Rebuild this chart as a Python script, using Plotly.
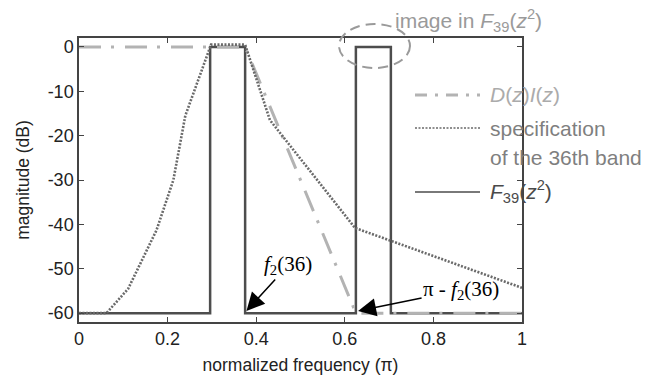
import plotly.graph_objects as go

# ---- data ----
f39_x = [0, 0.296, 0.296, 0.375, 0.375, 0.625, 0.625, 0.704, 0.704, 1.0]
f39_y = [-60, -60, 0, 0, -60, -60, 0, 0, -60, -60]

di_x = [0, 0.375, 0.625, 1.0]
di_y = [0, 0, -60, -60]

spec_x = [0, 0.062, 0.111, 0.175, 0.213, 0.240, 0.298, 0.375, 0.431, 0.623, 1.0]
spec_y = [-60, -60, -54.5, -41.3, -30, -15.5, 0.5, 0.5, -16.5, -40.8, -54.3]

x_ticks = [0, 0.2, 0.4, 0.6, 0.8, 1]
x_ticktext = ["0", "0.2", "0.4", "0.6", "0.8", "1"]
y_ticks = [0, -10, -20, -30, -40, -50, -60]
y_ticktext = ["0", "-10", "-20", "-30", "-40", "-50", "-60"]

DARK = "#4d4d4d"
LIGHT = "#b3b3b3"
MID = "#6a6a6a"
FONT = "Liberation Sans, Arial, sans-serif"
SERIF = "Liberation Serif, Times New Roman, serif"

fig = go.Figure()
fig.add_trace(go.Scatter(x=f39_x, y=f39_y, mode="lines",
                         line=dict(color=DARK, width=2.5), showlegend=False))
fig.add_trace(go.Scatter(x=di_x, y=di_y, mode="lines",
                         line=dict(color=LIGHT, width=3, dash="22px,10px,3px,11px"),
                         showlegend=False))
fig.add_trace(go.Scatter(x=spec_x, y=spec_y, mode="lines",
                         line=dict(color=MID, width=2.6, dash="2px,1.5px"),
                         showlegend=False))

# page has an 8px body margin; figure sized to fit the window
OFF = 8
W, H = 670 - OFF, 382 - OFF
# plot area in screen pixels: x 79..522, y 38..322
SL, SR, ST, SB = 79, 522, 38, 322
L, T = SL - OFF, ST - OFF
R, B = W + OFF - SR, H + OFF - SB
PW, PH = SR - SL, SB - ST
def px(x):
    return (x - SL) / PW
def py(y):
    return (SB - y) / PH

shapes = []
annotations = []

# manual legend
leg = [
    (95, LIGHT, 3, "12px,8px,3px,8px", "<i>D</i>(<i>z</i>)<i>I</i>(<i>z</i>)", "#ababab"),
    (128, MID, 1.5, "2px,1.5px", "specification", "#7f7f7f"),
    (192, DARK, 1.5, None, "<i>F</i><sub>39</sub>(<i>z</i><sup>2</sup>)", "#4a4a4a"),
]
for yy, col, wd, dash, txt, tcol in leg:
    ln = dict(color=col, width=wd)
    if dash:
        ln["dash"] = dash
    shapes.append(dict(type="line", xref="paper", yref="paper",
                       x0=px(415), x1=px(480), y0=py(yy), y1=py(yy), line=ln))
    annotations.append(dict(xref="paper", yref="paper", x=px(488), y=py(yy),
                            xanchor="left", yanchor="middle", text=txt,
                            showarrow=False, font=dict(family=FONT, size=21, color=tcol)))
annotations.append(dict(xref="paper", yref="paper", x=px(488), y=py(157),
                        xanchor="left", yanchor="middle", text="of the 36th band",
                        showarrow=False, font=dict(family=FONT, size=21, color="#7f7f7f")))

# image label and ellipse
annotations.append(dict(xref="paper", yref="paper", x=px(393), y=py(21),
                        xanchor="left", yanchor="middle",
                        text="image in <i>F</i><sub>39</sub>(<i>z</i><sup>2</sup>)",
                        showarrow=False, font=dict(family=FONT, size=21, color="#9a9a9a")))
shapes.append(dict(type="circle", xref="paper", yref="paper",
                   x0=px(339), x1=px(410), y0=py(68), y1=py(24),
                   line=dict(color="#9a9a9a", width=2, dash="10px,6px")))

# arrow annotations
annotations.append(dict(x=0.378, y=-59.5, xref="x", yref="y",
                        text="<i>f</i><sub>2</sub>(36)", showarrow=True,
                        ax=42, ay=-46, axref="pixel", ayref="pixel",
                        arrowhead=2, arrowsize=2.4, arrowwidth=1.5, arrowcolor="black",
                        font=dict(family=SERIF, size=21, color="black")))
annotations.append(dict(x=0.630, y=-59.5, xref="x", yref="y",
                        text="π - <i>f</i><sub>2</sub>(36)", showarrow=True,
                        ax=103, ay=-21, axref="pixel", ayref="pixel",
                        arrowhead=2, arrowsize=2.4, arrowwidth=1.5, arrowcolor="black",
                        font=dict(family=SERIF, size=21, color="black")))

fig.update_layout(
    width=W, height=H,
    margin=dict(l=L, r=R, t=T, b=B, autoexpand=False),
    plot_bgcolor="white", paper_bgcolor="white",
    font=dict(family=FONT, size=18, color="#222222"),
    shapes=shapes, annotations=annotations,
    showlegend=False,
)
fig.update_xaxes(range=[0, 1], tickvals=x_ticks, ticktext=x_ticktext,
                 ticks="inside", ticklen=5, tickcolor="#444", tickwidth=1,
                 showline=True, linecolor="#444", linewidth=1.5, mirror="ticks",
                 showgrid=False, zeroline=False, automargin=False,
                 title=dict(text="normalized frequency (π)", standoff=10, font=dict(size=17.5)))
fig.update_yaxes(range=[-62, 2], tickvals=y_ticks, ticktext=y_ticktext,
                 ticks="inside", ticklen=5, tickcolor="#444", tickwidth=1,
                 showline=True, linecolor="#444", linewidth=1.5, mirror="ticks",
                 showgrid=False, zeroline=False, automargin=False,
                 title=dict(text="magnitude (dB)", standoff=14, font=dict(size=17.5)))

fig.write_html("out.html")
